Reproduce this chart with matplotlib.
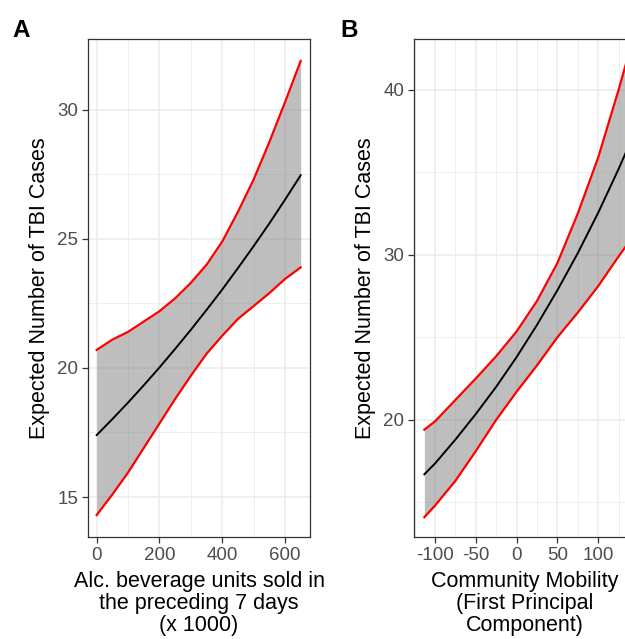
import numpy as np
import matplotlib
matplotlib.use("Agg")
import matplotlib.pyplot as plt
from matplotlib.ticker import MultipleLocator, FixedLocator

plt.rcParams['font.family'] = ['Liberation Sans', 'DejaVu Sans']
plt.rcParams['axes.unicode_minus'] = False

# Panel A: alcohol sales
alc_x = [0, 50, 100, 150, 200, 250, 300, 350, 400, 450, 500, 550, 600, 650]
alc_fit = [17.4, 18.02, 18.66, 19.33, 20.02, 20.74, 21.48, 22.25, 23.04, 23.87, 24.72, 25.6, 26.52, 27.47]
alc_upper = [20.7, 21.1, 21.4, 21.8, 22.2, 22.7, 23.3, 24.0, 24.9, 26.05, 27.3, 28.75, 30.3, 31.9]
alc_lower = [14.3, 15.1, 15.95, 16.9, 17.85, 18.8, 19.7, 20.55, 21.25, 21.9, 22.4, 22.9, 23.45, 23.9]

# Panel B: community mobility
mob_x = [-113, -100, -75, -50, -25, 0, 25, 50, 75, 100, 125, 141]
mob_fit = [16.7, 17.35, 18.8, 20.35, 22.0, 23.8, 25.75, 27.85, 30.1, 32.55, 35.2, 37.0]
mob_upper = [19.4, 19.9, 21.2, 22.5, 23.85, 25.35, 27.2, 29.5, 32.5, 35.9, 40.0, 42.8]
mob_lower = [14.1, 14.8, 16.3, 18.1, 20.0, 21.7, 23.3, 25.0, 26.5, 28.1, 29.9, 31.0]

W, H = 625, 639
fig = plt.figure(figsize=(W / 100, H / 100), dpi=100)

ax_a = fig.add_axes([88 / W, 1 - 537 / H, 222 / W, 498 / H])
ax_b = fig.add_axes([414 / W, 1 - 537 / H, 222 / W, 498 / H])


def draw_panel(ax, x, fit, lo, hi):
    ax.fill_between(x, lo, hi, color="#7f7f7f", alpha=0.5, lw=0, zorder=2)
    ax.plot(x, hi, color="red", lw=1.6, zorder=3)
    ax.plot(x, lo, color="red", lw=1.6, zorder=3)
    ax.plot(x, fit, color="black", lw=1.4, zorder=4)
    ax.set_axisbelow(True)
    ax.grid(which="major", color="#ebebeb", lw=1.1)
    ax.grid(which="minor", color="#ebebeb", lw=0.6)
    ax.tick_params(which="major", length=4, width=0.9, color="#333333",
                   labelcolor="#4d4d4d", labelsize=13.5, pad=3)
    ax.tick_params(which="minor", length=0)
    for s in ax.spines.values():
        s.set_color("#333333")
        s.set_linewidth(0.9)
    ax.set_ylabel("Expected Number of TBI Cases", fontsize=15.5, labelpad=5)


draw_panel(ax_a, alc_x, alc_fit, alc_lower, alc_upper)
ax_a.set_xlim(-27.7, 679.7)
ax_a.set_ylim(13.45, 32.75)
ax_a.xaxis.set_major_locator(FixedLocator([0, 200, 400, 600]))
ax_a.xaxis.set_minor_locator(FixedLocator([100, 300, 500]))
ax_a.yaxis.set_major_locator(FixedLocator([15, 20, 25, 30]))
ax_a.yaxis.set_minor_locator(FixedLocator([17.5, 22.5, 27.5]))
ax_a.set_xlabel("Alc. beverage units sold in\nthe preceding 7 days\n(x 1000)",
                fontsize=15.5, linespacing=1.08, labelpad=5)

draw_panel(ax_b, mob_x, mob_fit, mob_lower, mob_upper)
ax_b.set_xlim(-125.7, 146.2)
ax_b.set_ylim(12.9, 43.06)
ax_b.xaxis.set_major_locator(MultipleLocator(50))
ax_b.xaxis.set_minor_locator(MultipleLocator(25))
ax_b.yaxis.set_major_locator(FixedLocator([20, 30, 40]))
ax_b.yaxis.set_minor_locator(FixedLocator([15, 25, 35]))
ax_b.set_xlabel("Community Mobility\n(First Principal\nComponent)",
                fontsize=15.5, linespacing=1.08, labelpad=5)

fig.text(12 / W, 1 - 37 / H, "A", fontsize=17.5, fontweight="bold")
fig.text(340 / W, 1 - 37 / H, "B", fontsize=17.5, fontweight="bold")

fig.savefig("out.png", dpi=100)
